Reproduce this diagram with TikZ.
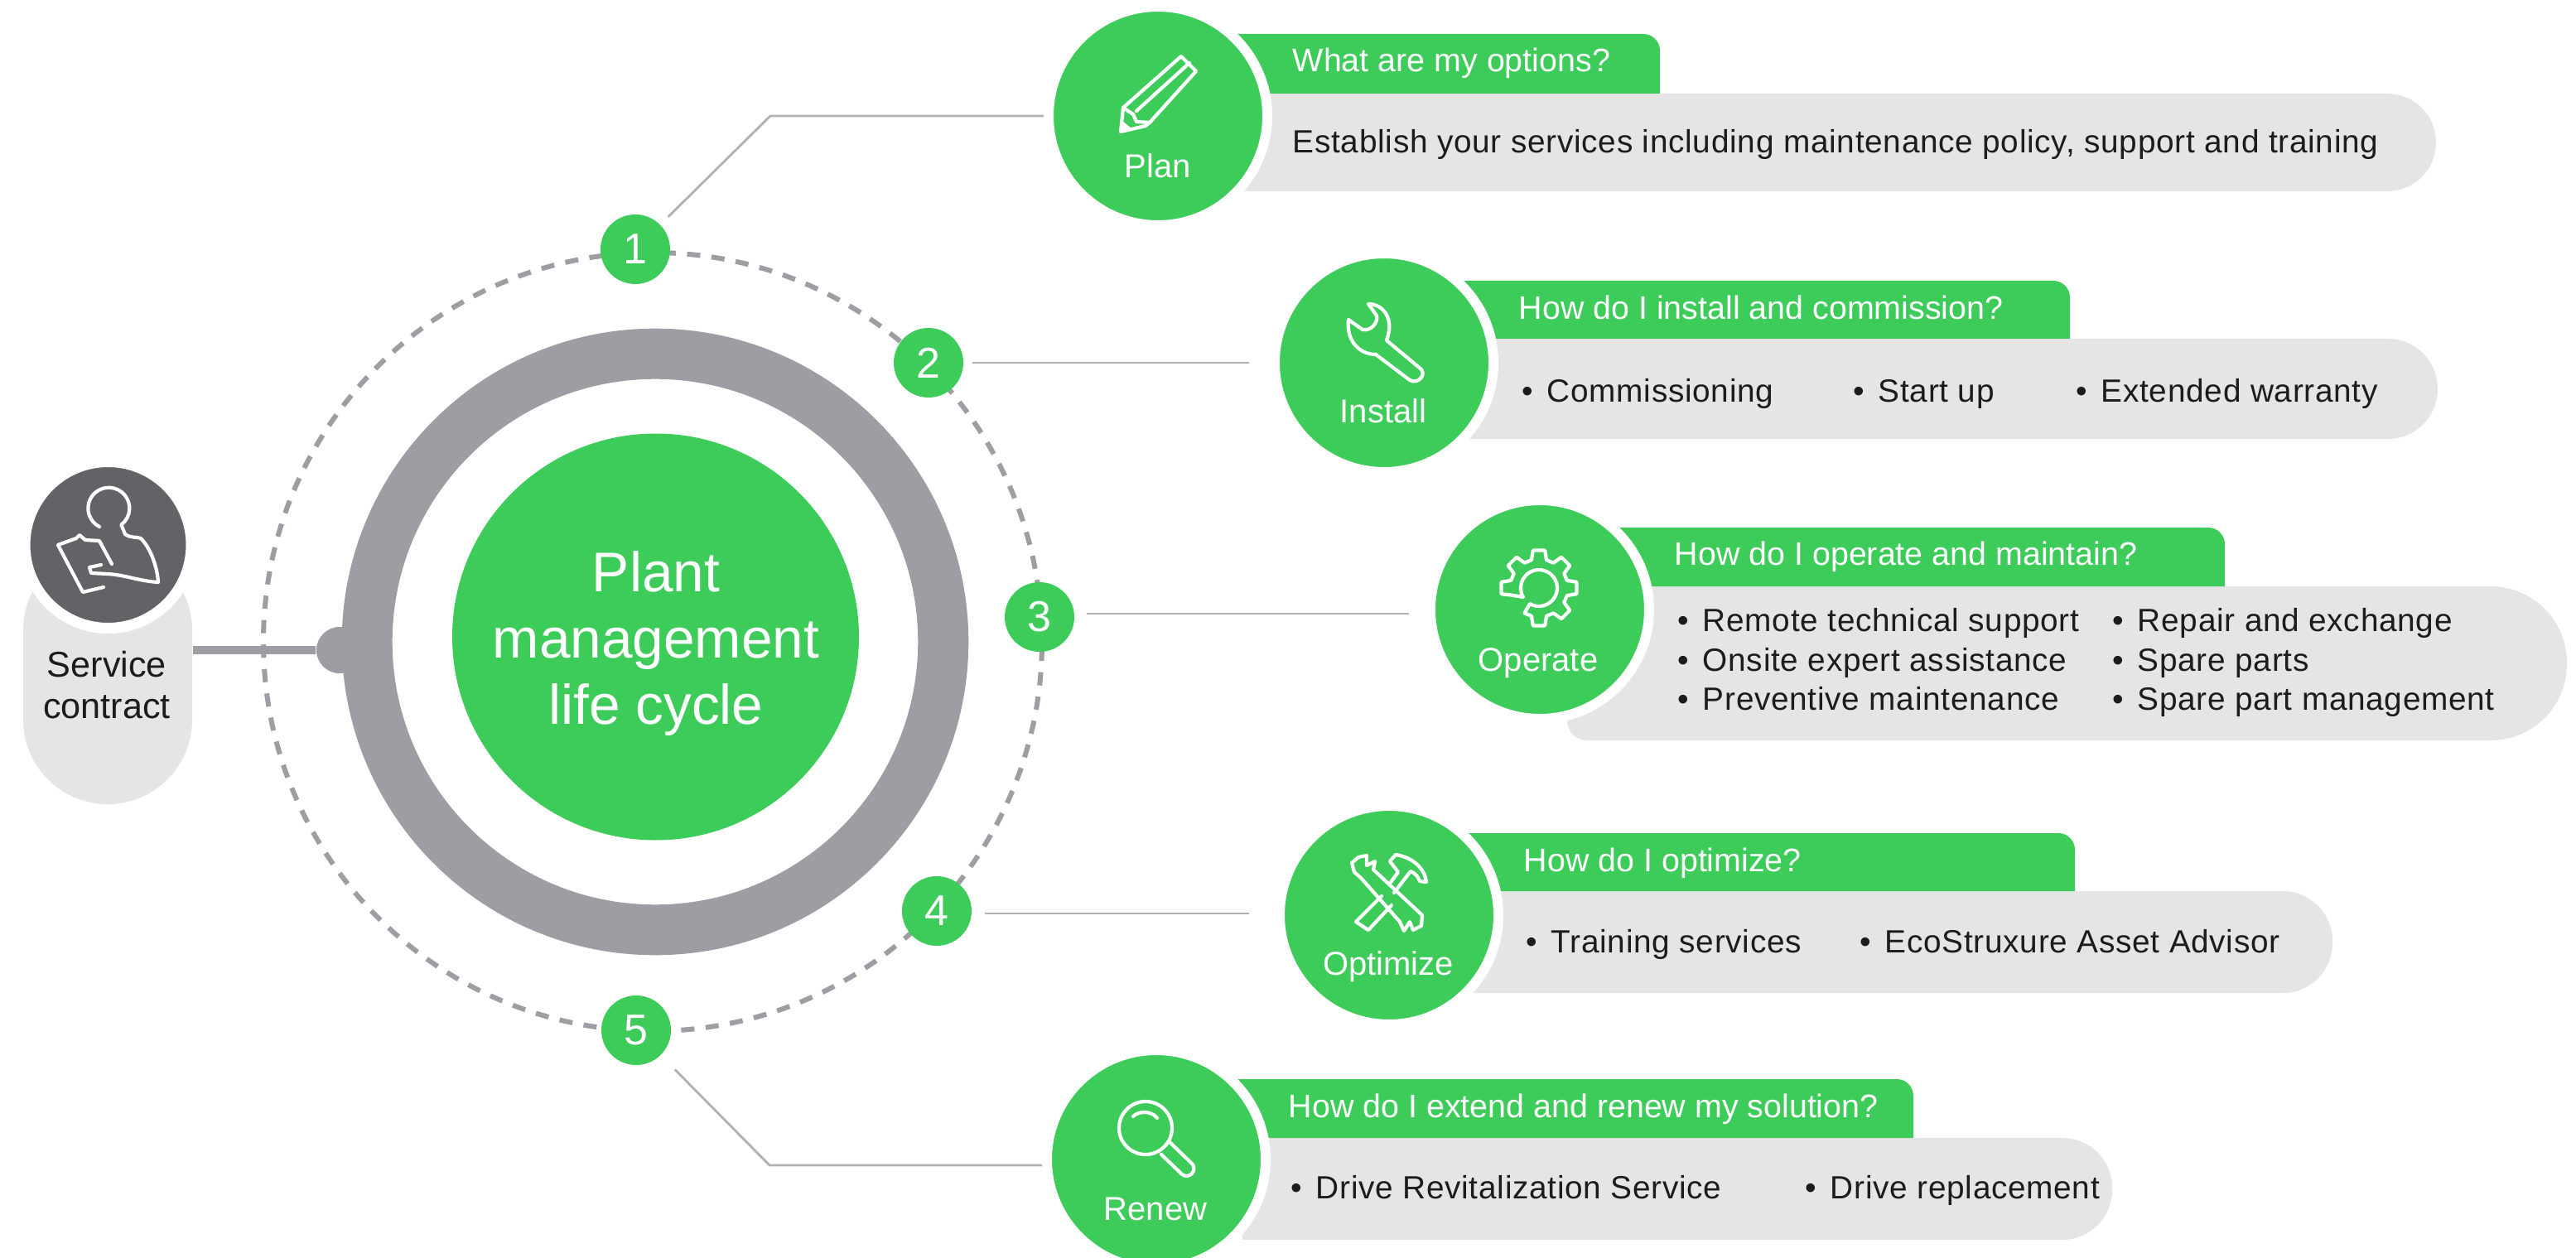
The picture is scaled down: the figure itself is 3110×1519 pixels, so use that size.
\documentclass[tikz,border=0pt]{standalone}
\usepackage{fontspec}
\setmainfont{Liberation Sans}
\newfontfamily\itemfont[LetterSpace=1.8]{Liberation Sans}
\definecolor{cycgreen}{HTML}{3DCC5A}
\definecolor{ringgray}{HTML}{9D9DA3}
\definecolor{panelgray}{HTML}{E5E5E6}
\definecolor{darkdisc}{HTML}{626367}
\definecolor{inktext}{HTML}{1C1C1E}
\tikzset{
  bigdisc/.style={circle,fill=cycgreen,draw=white,line width=3pt,minimum size=66pt,inner sep=0pt},
  numdisc/.style={circle,fill=cycgreen,minimum size=21pt,inner sep=0pt,text=white,font=\fontsize{13}{15}\selectfont},
  link/.style={draw=ringgray!80,line width=0.7pt,shorten <=2.5pt},
  panel/.style={fill=panelgray},
  tab/.style={fill=cycgreen},
  icon/.style={draw=white,line width=1.05pt,line join=round,line cap=round},
  tabtext/.style={anchor=base west,inner sep=0pt,text=white,font=\fontsize{9.85}{11}\selectfont},
  itemtext/.style={anchor=base west,inner sep=0pt,text=inktext,font=\itemfont\fontsize{9.7}{11}\selectfont},
  disclabel/.style={anchor=base,inner sep=0pt,text=white,font=\fontsize{10}{12}\selectfont},
}
\newcommand{\bul}[1]{\llap{\textbullet\hskip 4.2pt}#1}
\begin{document}
\begin{tikzpicture}[x=0.25pt,y=0.25pt,yscale=-1,xscale=1]
  \clip (0,0) rectangle (3110,1519);
  \path[use as bounding box] (0,0) rectangle (3110,1519);

  %Service contract
  \node[panel,rounded corners=25.5pt,minimum width=51pt,minimum height=78pt,inner sep=0pt] (svcbody) at (130,815) {};
  \node[circle,fill=ringgray,minimum size=14pt,inner sep=0pt] (knob) at (410,785) {};

  %Dashed orbit and ring
  \node[circle,draw=ringgray,line width=1.5pt,dash pattern=on 4pt off 3.4pt,minimum size=235pt,inner sep=0pt] (orbit) at (788,775) {};
  \draw[ringgray,line width=2.5pt] (knob) -- (knob -| svcbody.east);
  \node[circle,draw=ringgray,line width=15.25pt,minimum size=173.9pt,inner sep=0pt] (ring) at (791,775) {};
  \node[circle,fill=cycgreen,minimum size=122.75pt,inner sep=0pt] (hub) at (791.5,769) {};
  \node[inner sep=0pt,align=center,text=white,font=\fontsize{16.9}{19.9}\selectfont] (hubtext) at (792,777) {Plant\\management\\life cycle};
  \node[circle,fill=darkdisc,draw=white,line width=3.25pt,minimum size=50.25pt,inner sep=0pt] (svcdisc) at (130.5,658) {};
  \node[anchor=base,inner sep=0pt,text=inktext,font=\fontsize{10.8}{12.5}\selectfont] (svctext) at (129,817) {Service};
  \node[anchor=base,inner sep=0pt,text=inktext,font=\fontsize{10.8}{12.5}\selectfont] (svctextb) at (129,867) {contract};

  %Panels
  \fill[panel] (1398,113) [rounded corners=14.7pt] -- (2941,113) -- (2941,231) [sharp corners] -- (1500,231) -- (1500,113) -- cycle;
  \fill[panel] (1671,409) [rounded corners=15pt] -- (2943,409) -- (2943,530) [sharp corners] -- (1775,530) -- (1775,409) -- cycle;
  \fill[panel] (1859,708) [rounded corners=23pt] -- (3099,708) -- (3099,894) [rounded corners=6pt] -- (1892,894) [sharp corners] -- (1892,708) -- cycle;
  \fill[panel] (1677,1076) [rounded corners=15pt] -- (2816,1076) -- (2816,1199) [sharp corners] -- (1778,1199) -- (1778,1076) -- cycle;
  \fill[panel] (1396,1374) [rounded corners=15pt] -- (2550,1374) -- (2550,1497) [sharp corners] -- (1500,1497) -- (1500,1374) -- cycle;

  %Tabs
  \fill[tab] (1398,113) -- (1398,41) [rounded corners=5pt] -- (2004,41) [sharp corners] -- (2004,113) -- cycle;
  \fill[tab] (1671,409) -- (1671,339) [rounded corners=5pt] -- (2499,339) [sharp corners] -- (2499,409) -- cycle;
  \fill[tab] (1859,708) -- (1859,637) [rounded corners=5pt] -- (2686,637) [sharp corners] -- (2686,708) -- cycle;
  \fill[tab] (1677,1076) -- (1677,1006) [rounded corners=5pt] -- (2505,1006) [sharp corners] -- (2505,1076) -- cycle;
  \fill[tab] (1396,1374) -- (1396,1303) [rounded corners=5pt] -- (2310,1303) [sharp corners] -- (2310,1374) -- cycle;

  %Big discs
  \node[bigdisc] (plan) at (1398,140) {};
  \node[bigdisc] (inst) at (1671,438) {};
  \node[bigdisc] (oper) at (1859,736) {};
  \node[bigdisc] (opti) at (1677,1105) {};
  \node[bigdisc] (rene) at (1396,1400) {};

  %Number discs
  \node[numdisc] (numa) at (767,301) {1};
  \node[numdisc] (numb) at (1121,438) {2};
  \node[numdisc] (numc) at (1255,745) {3};
  \node[numdisc] (numd) at (1131,1100) {4};
  \node[numdisc] (nume) at (768,1244) {5};

  %Straight Lines
  \coordinate (bendplan) at (930,140);
  \coordinate (bendrene) at (929,1407);
  \coordinate (endoper) at (1701,741);
  \coordinate (endopti) at (1508,1103);
  \draw[link,shorten <=3.2pt] (numa) -- (bendplan) -- (bendplan -| plan.west);
  \draw[link,shorten >=6.25pt] (numb) -- (inst);
  \draw[link,shorten <=3.5pt] (endoper -| numc.east) -- (endoper);
  \draw[link,shorten <=3.8pt] (endopti -| numd.east) -- (endopti);
  \draw[link,shorten <=6pt] (nume) -- (bendrene) -- (bendrene -| rene.west);

  %Icon: clipboard
  \draw[icon] (120,636) arc[start angle=117,end angle=413,radius=25] -- (151,645) .. controls (158,650) and (165,648) .. (170,650) .. controls (182,662) and (190,685) .. (191,703) .. controls (170,702) and (150,694) .. (130,693) -- (110,692) -- (108,685) -- (122,682);
  \draw[icon] (125,709) -- (100,715) -- (70,658) -- (92,650) -- (96,646) -- (103,652) -- (120,653) -- (135,681);
  %Icon: pencil
  \draw[icon] (1356,130) -- (1426,68) -- (1444,86) -- (1388,148) -- (1383,152) -- (1353,159) -- cycle;
  \draw[icon] (1372,134) -- (1436,76);
  \draw[icon] (1356,130) -- (1368,138) -- (1372,147) -- (1388,148);
  \fill[white] (1353,159) -- (1355,146) -- (1366,155) -- cycle;
  %Icon: wrench
  \draw[icon] (1674,411) -- (1716,446) .. controls (1722,455) and (1710,464) .. (1702,459) -- (1661,428) .. controls (1640,428) and (1625,410) .. (1628,386) -- (1645,398) .. controls (1655,400) and (1664,390) .. (1662,381) -- (1652,367) .. controls (1670,367) and (1684,385) .. (1674,411) -- cycle;
  %Icon: gear
  \begin{scope}[shift={(1858,710)}]
    \draw[icon] (166:35) \foreach \a in {180,225,270,315,360,405,450} { -- (\a-9:46) -- (\a+9:46) -- (\a+15:35) -- (\a+30:35) } -- (120:22) arc[start angle=120,end angle=-210,radius=22] -- cycle;
  \end{scope}
  %Icon: crossed tools
  \draw[icon] (1668,1082) -- (1637,1113) -- (1652,1123) -- (1680,1093);
  \draw[icon] (1677,1068) -- (1688,1053) -- (1678,1040) -- (1685,1032) .. controls (1705,1035) and (1720,1048) .. (1722,1065) -- (1714,1064) .. controls (1712,1058) and (1708,1054) .. (1703,1052) -- (1683,1078);
  \draw[icon] (1658,1050) -- (1660,1040) -- (1650,1045) -- (1650,1033) -- (1640,1035) -- (1632,1042) -- (1635,1053) -- (1643,1060) -- (1690,1113) -- (1695,1124) -- (1702,1113) -- (1706,1123) -- (1716,1118) -- (1717,1105) -- cycle;
  %Icon: magnifier
  \draw[icon] (1383,1362) circle[radius=32];
  \draw[icon] (1368,1348) .. controls (1375,1341) and (1390,1341) .. (1397,1350);
  \draw[icon] (1412,1379) -- (1440,1406) .. controls (1445,1415) and (1435,1424) .. (1427,1418) -- (1402,1394);

  % Text Node
  \node[disclabel] (planlab) at (1398,215) {Plan};
  \node[disclabel] (instlab) at (1670,511) {Install};
  \node[disclabel] (operlab) at (1857,810) {Operate};
  \node[disclabel] (optilab) at (1676,1177) {Optimize};
  \node[disclabel] (renelab) at (1395,1473) {Renew};

  % Text Node
  \node[tabtext] (plantab) at (1560,87) {What are my options?};
  \node[tabtext] (insttab) at (1833,385) {How do I install and commission?};
  \node[tabtext] (opertab) at (2021,683) {How do I operate and maintain?};
  \node[tabtext] (optitab) at (1839,1052) {How do I optimize?};
  \node[tabtext] (renetab) at (1555,1349) {How do I extend and renew my solution?};

  % Text Node
  \node[itemtext] (planit) at (1560,185) {Establish your services including maintenance policy, support and training};
  \node[itemtext] (instita) at (1867,485) {\bul{Commissioning}};
  \node[itemtext] (institb) at (2267,485) {\bul{Start up}};
  \node[itemtext] (institc) at (2536,485) {\bul{Extended warranty}};
  \node[itemtext] (operita) at (2055,762) {\bul{Remote technical support}};
  \node[itemtext] (operitb) at (2055,810) {\bul{Onsite expert assistance}};
  \node[itemtext] (operitc) at (2055,857) {\bul{Preventive maintenance}};
  \node[itemtext] (operitd) at (2580,762) {\bul{Repair and exchange}};
  \node[itemtext] (operite) at (2580,810) {\bul{Spare parts}};
  \node[itemtext] (operitf) at (2580,857) {\bul{Spare part management}};
  \node[itemtext] (optita) at (1872,1150) {\bul{Training services}};
  \node[itemtext] (optitb) at (2275,1150) {\bul{EcoStruxure Asset Advisor}};
  \node[itemtext] (reneita) at (1588,1447) {\bul{Drive Revitalization Service}};
  \node[itemtext] (reneitb) at (2209,1447) {\bul{Drive replacement}};
\end{tikzpicture}
\end{document}
